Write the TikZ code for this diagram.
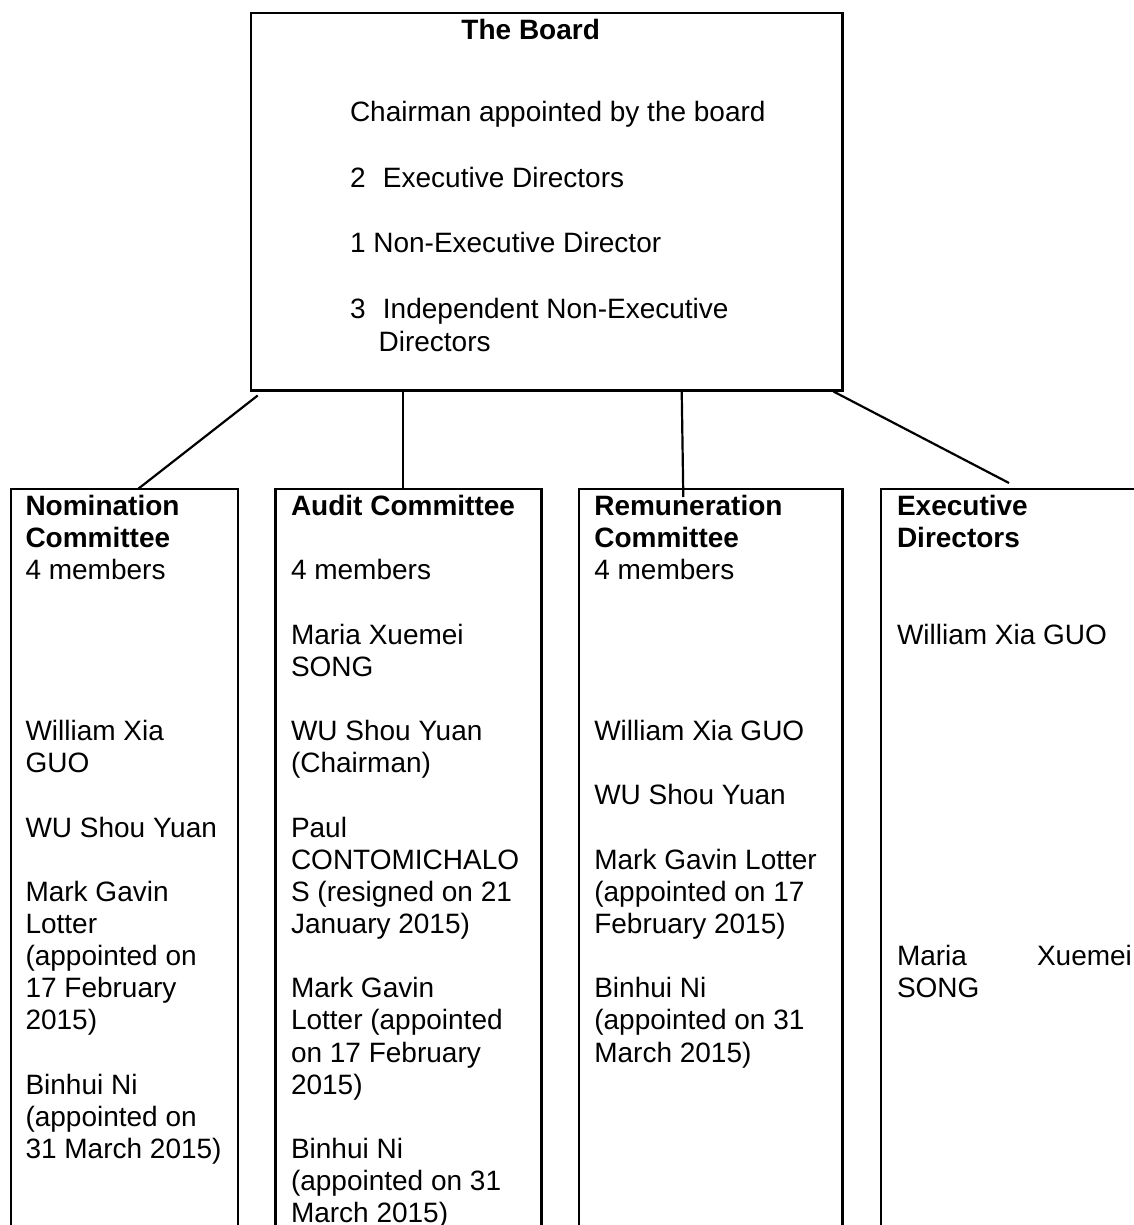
\documentclass[tikz,border=0pt]{standalone}
\usepackage{fontspec}
\setmainfont{Liberation Sans}
\usetikzlibrary{calc}
\begin{document}
\begin{tikzpicture}[x=0.5pt,y=-0.5pt,line width=1.1pt,
  box/.style={draw,rectangle,inner sep=0pt,outer sep=0pt,anchor=north west},
  txt/.style={anchor=base west,inner sep=0pt,outer sep=0pt,font=\fontsize{14}{16.1}\selectfont},
  conn/.style={draw,line width=1.1pt}]
\useasboundingbox (0,0) rectangle (1134,1225);
\clip (0,0) rectangle (1134,1225);
% boxes
\node[box,minimum width=295.9pt,minimum height=188.75pt] (board) at (250.7,13) {};
\node[box,minimum width=113.5pt,minimum height=380pt] (nom) at (11,489) {};
\node[box,minimum width=133pt,minimum height=380pt] (aud) at (275.5,489) {};
\node[box,minimum width=131.75pt,minimum height=380pt] (rem) at (579,489) {};
\node[box,minimum width=150pt,minimum height=380pt] (exe) at (881,489) {};
% board text
\node[txt,anchor=base] (b-title) at (530.7,40) {\bfseries The Board};
\node[txt] (b-1) at (350,122) {Chairman appointed by the board};
\node[txt] (b-2) at (350,187.5) {2\hspace{8.7pt}Executive Directors};
\node[txt] (b-3) at (350,253) {1 Non-Executive Director};
\node[txt] (b-4) at (350,318.5) {3\hspace{8.7pt}Independent Non-Executive};
\node[txt] (b-5) at (378.6,351) {Directors};
% column texts
\foreach \k/\t [count=\i] in {0/{\bfseries Nomination},1/{\bfseries Committee},2/4 members,7/William Xia,8/GUO,10/WU Shou Yuan,12/Mark Gavin,13/Lotter,14/(appointed on,15/17 February,16/2015),18/Binhui Ni,19/(appointed on,20/31 March 2015)}
  \node[txt] (nom-\i) at (25.5,{515.5+32.15*\k}) {\t};
\foreach \k/\t [count=\i] in {0/{\bfseries Audit Committee},2/4 members,4/Maria Xuemei,5/SONG,7/WU Shou Yuan,8/(Chairman),10/Paul,11/CONTOMICHALO,12/S (resigned on 21,13/January 2015),15/Mark Gavin,16/Lotter (appointed,17/on 17 February,18/2015),20/Binhui Ni,21/(appointed on 31,22/March 2015)}
  \node[txt] (aud-\i) at (291,{515.5+32.15*\k}) {\t};
\foreach \k/\t [count=\i] in {0/{\bfseries Remuneration},1/{\bfseries Committee},2/4 members,7/William Xia GUO,9/WU Shou Yuan,11/Mark Gavin Lotter,12/(appointed on 17,13/February 2015),15/Binhui Ni,16/(appointed on 31,17/March 2015)}
  \node[txt] (rem-\i) at (594.3,{515.5+32.15*\k}) {\t};
\foreach \k/\t [count=\i] in {0/{\bfseries Executive},1/{\bfseries Directors},4/William Xia GUO,15/SONG}
  \node[txt] (exe-\i) at (897,{515.5+32.15*\k}) {\t};
\node[txt,text width=117.5pt] (exe-m) at (897,{515.5+32.15*14}) {Maria\hfill Xuemei};
% connectors
\draw[conn] ($(board.south west)+(7,5)$) -- ($(nom.north west)+(127,0)$);
\draw[conn] ($(board.south west)+(152.6,0)$) -- ($(aud.north west)+(127.8,0)$);
\draw[conn] ($(board.south west)+(431,0)$) -- ($(rem.north west)+(104.3,8)$);
\draw[conn] ($(board.south east)+(-9,1)$) -- ($(exe.north west)+(128,-6)$);
\end{tikzpicture}
\end{document}
